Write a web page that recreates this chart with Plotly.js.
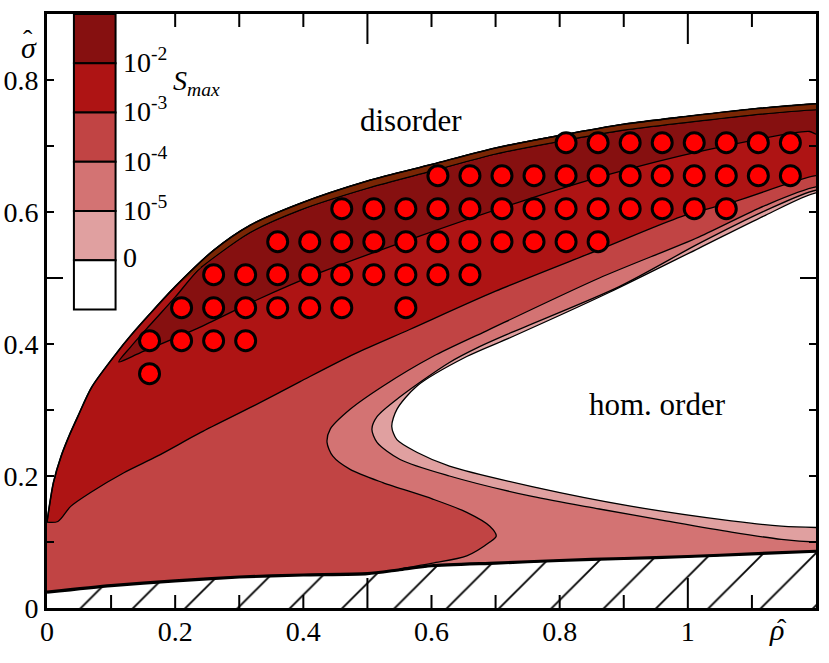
<!DOCTYPE html>
<html>
<head>
<meta charset="utf-8">
<script src="https://cdn.plot.ly/plotly-3.0.1.min.js"></script>
<style>html,body{margin:0;padding:0;background:#fff;}#chart{width:829px;height:663px;}</style>
</head>
<body>
<div id="chart"></div>
<script>
// ---------------- data ----------------
// outer (upper) boundary of the coloured region
const upperRho   = [0, 0.003, 0.01, 0.022, 0.035, 0.048, 0.07, 0.11, 0.13, 0.16, 0.2, 0.26, 0.317, 0.395, 0.5, 0.6, 0.7, 0.8, 0.9, 1.0, 1.1, 1.2];
const upperSigma = [0.13, 0.15, 0.19, 0.23, 0.262, 0.29, 0.335, 0.388, 0.412, 0.445, 0.487, 0.542, 0.58, 0.613, 0.647, 0.672, 0.697, 0.716, 0.733, 0.745, 0.756, 0.764];
// lower (hatched) boundary
const lowerRho   = [0, 0.1, 0.2, 0.3, 0.4, 0.5, 0.55, 0.6, 0.7, 0.8, 0.9, 1.0, 1.1, 1.2];
const lowerSigma = [0.024, 0.034, 0.041, 0.047, 0.05, 0.052, 0.058, 0.064, 0.068, 0.072, 0.075, 0.078, 0.082, 0.086];
// S_max > 1e-2 region: lower edge and upper edge
const darkLowerRho   = [0.112, 0.146, 0.24, 0.328, 0.426, 0.577, 0.737, 0.87, 1.03, 1.19, 1.2];
const darkLowerSigma = [0.373, 0.387, 0.426, 0.467, 0.508, 0.562, 0.615, 0.655, 0.694, 0.722, 0.718];
const darkUpperRho   = [0.112, 0.13, 0.16, 0.2, 0.24, 0.317, 0.395, 0.5, 0.6, 0.7, 0.8, 0.9, 1.0, 1.1, 1.2];
const darkUpperSigma = [0.373, 0.395, 0.428, 0.471, 0.516, 0.569, 0.603, 0.636, 0.662, 0.688, 0.707, 0.724, 0.736, 0.747, 0.755];
// contour S_max = 1e-3
const c3Rho   = [0, 0.017, 0.037, 0.068, 0.12, 0.172, 0.24, 0.32, 0.395, 0.48, 0.566, 0.7, 0.862, 0.99, 1.08, 1.2];
const c3Sigma = [0.13, 0.131, 0.154, 0.175, 0.205, 0.23, 0.266, 0.305, 0.343, 0.385, 0.422, 0.48, 0.543, 0.593, 0.618, 0.655];
// contour S_max = 1e-4
const c4Rho   = [1.2, 1.121, 1.017, 0.862, 0.686, 0.602, 0.524, 0.473, 0.442, 0.437, 0.446, 0.473, 0.524, 0.602, 0.655, 0.691, 0.701, 0.691, 0.655, 0.602, 0.55];
const c4Sigma = [0.638, 0.61, 0.562, 0.5, 0.42, 0.381, 0.336, 0.301, 0.271, 0.251, 0.23, 0.21, 0.19, 0.165, 0.145, 0.124, 0.109, 0.1, 0.079, 0.068, 0.059];
// contour S_max = 1e-5
const c5Rho   = [1.2, 1.121, 1.017, 0.893, 0.726, 0.675, 0.628, 0.551, 0.515, 0.507, 0.515, 0.551, 0.628, 0.757, 0.862, 0.966, 1.068, 1.146, 1.2];
const c5Sigma = [0.633, 0.602, 0.552, 0.487, 0.418, 0.396, 0.372, 0.32, 0.29, 0.271, 0.251, 0.225, 0.2, 0.169, 0.15, 0.132, 0.115, 0.104, 0.1];
// contour S_max = 0 (homogeneous order)
const c0Rho   = [1.2, 1.121, 1.017, 0.877, 0.726, 0.655, 0.577, 0.546, 0.538, 0.546, 0.577, 0.628, 0.757, 0.913, 1.068, 1.146, 1.2];
const c0Sigma = [0.629, 0.595, 0.545, 0.478, 0.411, 0.381, 0.336, 0.301, 0.275, 0.255, 0.236, 0.215, 0.184, 0.154, 0.132, 0.124, 0.122];
// simulation points (rows of constant sigma)
const rowSigma = [0.355, 0.405, 0.455, 0.505, 0.555, 0.605, 0.655, 0.705];
const rowRho = [
  [0.16],
  [0.16, 0.21, 0.26, 0.31],
  [0.21, 0.26, 0.31, 0.36, 0.41, 0.46, 0.56],
  [0.26, 0.31, 0.36, 0.41, 0.46, 0.51, 0.56, 0.61, 0.66],
  [0.36, 0.41, 0.46, 0.51, 0.56, 0.61, 0.66, 0.71, 0.76, 0.81, 0.86],
  [0.46, 0.51, 0.56, 0.61, 0.66, 0.71, 0.76, 0.81, 0.86, 0.91, 0.96, 1.01, 1.06],
  [0.61, 0.66, 0.71, 0.76, 0.81, 0.86, 0.91, 0.96, 1.01, 1.06, 1.11, 1.16],
  [0.81, 0.86, 0.91, 0.96, 1.01, 1.06, 1.11, 1.16]
];
// legend
const legendColors = ['#861010', '#AE1414', '#C14444', '#D37373', '#E0A0A0', '#FFFFFF'];
const legendLabels = ['10<sup>-2</sup>', '10<sup>-3</sup>', '10<sup>-4</sup>', '10<sup>-5</sup>', '0'];
// axes
const xTickVals = [0, 0.2, 0.4, 0.6, 0.8, 1];
const xTickText = ['0', '0.2', '0.4', '0.6', '0.8', '1'];
const yTickVals = [0, 0.2, 0.4, 0.6, 0.8];
const yTickText = ['0', '0.2', '0.4', '0.6', '0.8'];
const xMinorTicks = [0.1, 0.2, 0.3, 0.4, 0.6, 0.7, 0.8, 0.9, 1.1];
const xMajorTicks = [0.5, 1.0];
const yMinorTicks = [0.1, 0.2, 0.3, 0.4, 0.6, 0.7, 0.8];
const yMajorTicks = [0.5];

// ---------------- styling ----------------
const XR = [0, 1.2], YR = [0, 0.9];
const PAD = 0.05;
const FONT = '"Liberation Serif", serif';
const BROWN = '#7A2604';
const rev = a => a.slice().reverse();
const lw = 1.3;

function poly(x, y, fill, width) {
  return {type: 'scatter', mode: 'lines', x: x, y: y, fill: 'toself', fillcolor: fill,
          line: {color: '#000', width: width === undefined ? lw : width, shape: 'spline', smoothing: 0.8},
          hoverinfo: 'skip'};
}
// extend a curve that ends on the right frame a little past it, so polygon corners fall outside the clip
const padEndX = a => a.concat([XR[1] + PAD]);
const padEndY = a => a.concat([a[a.length - 1]]);
const padStartX = a => [XR[1] + PAD].concat(a);
const padStartY = a => [a[0]].concat(a);

const traces = [];
// hatched (forbidden) region
const hatchX = [XR[0], XR[1]].concat(rev(lowerRho));
const hatchY = [YR[0], YR[0]].concat(rev(lowerSigma));
traces.push({type: 'scatter', mode: 'lines', x: hatchX, y: hatchY, fill: 'toself', fillcolor: '#fff',
  fillpattern: {shape: '/', size: 37, solidity: 0.05, fgcolor: '#000', bgcolor: '#fff'},
  line: {width: 0}, hoverinfo: 'skip'});
// 1e-3..1e-2 (whole band)
traces.push(poly(padEndX(upperRho).concat(padStartX(rev(lowerRho))),
                 padEndY(upperSigma).concat(padStartY(rev(lowerSigma))), legendColors[1]));
// 1e-4..1e-3
traces.push(poly(padEndX(c3Rho).concat(padStartX(rev(lowerRho))),
                 padEndY(c3Sigma).concat(padStartY(rev(lowerSigma))), legendColors[2]));
// 1e-5..1e-4
const lastB = c4Rho[c4Rho.length - 1];
const lowR = lowerRho.filter(r => r > lastB), lowS = lowerSigma.filter((s, i) => lowerRho[i] > lastB);
traces.push(poly(padStartX(c4Rho).concat(padEndX(lowR)), padStartY(c4Sigma).concat(padEndY(lowS)), legendColors[3]));
// 0..1e-5
traces.push(poly(padEndX(padStartX(c5Rho)), padEndY(padStartY(c5Sigma)), legendColors[4]));
// 0
traces.push(poly(padEndX(padStartX(c0Rho)), padEndY(padStartY(c0Sigma)), legendColors[5]));
// > 1e-2
traces.push(poly(padEndX(darkLowerRho).concat(padStartX(rev(darkUpperRho))),
                 padEndY(darkLowerSigma).concat(padStartY(rev(darkUpperSigma))), legendColors[0]));
// brown rim along outer boundary
const bu = upperRho.map((r, i) => [r, upperSigma[i]]).filter(p => p[0] >= 0.2);
const bd = darkUpperRho.map((r, i) => [r, darkUpperSigma[i]]).filter(p => p[0] >= 0.24).reverse();
traces.push(poly(padEndX(bu.map(p => p[0])).concat(padStartX(bd.map(p => p[0]))),
                 padEndY(bu.map(p => p[1])).concat(padStartY(bd.map(p => p[1]))), BROWN, 1.1));
// outer boundary line
traces.push({type: 'scatter', mode: 'lines', x: upperRho, y: upperSigma,
  line: {color: '#000', width: 1.6, shape: 'spline', smoothing: 0.8}, hoverinfo: 'skip'});
// thick lower boundary
traces.push({type: 'scatter', mode: 'lines', x: lowerRho, y: lowerSigma,
  line: {color: '#000', width: 3.2, shape: 'spline', smoothing: 0.6}, hoverinfo: 'skip'});
// simulation points
const px = [], py = [];
rowRho.forEach((row, i) => row.forEach(r => { px.push(r); py.push(rowSigma[i]); }));
traces.push({type: 'scatter', mode: 'markers', x: px, y: py,
  marker: {size: 20, color: '#FF0000', line: {color: '#000', width: 3}}, hoverinfo: 'skip'});

const shapes = [];
// tick marks (inside, on all four sides)
function xTick(v, len) {
  shapes.push({type: 'line', xref: 'x', yref: 'paper', ysizemode: 'pixel', yanchor: 0, x0: v, x1: v, y0: 0, y1: len,
    line: {color: '#000', width: 2}, layer: 'above'});
  shapes.push({type: 'line', xref: 'x', yref: 'paper', ysizemode: 'pixel', yanchor: 1, x0: v, x1: v, y0: 0, y1: -len,
    line: {color: '#000', width: 2}, layer: 'above'});
}
function yTick(v, len) {
  shapes.push({type: 'line', yref: 'y', xref: 'paper', xsizemode: 'pixel', xanchor: 0, y0: v, y1: v, x0: 0, x1: len,
    line: {color: '#000', width: 2}, layer: 'above'});
  shapes.push({type: 'line', yref: 'y', xref: 'paper', xsizemode: 'pixel', xanchor: 1, y0: v, y1: v, x0: 0, x1: -len,
    line: {color: '#000', width: 2}, layer: 'above'});
}
xMinorTicks.forEach(v => xTick(v, 13));
xMajorTicks.forEach(v => xTick(v, 30));
yMinorTicks.forEach(v => yTick(v, 7));
yMajorTicks.forEach(v => yTick(v, 16));

// legend colour boxes
const lgX0 = 0.042, lgX1 = 0.107, lgTop = 0.9, lgStep = 0.0746;
legendColors.forEach((c, i) => {
  shapes.push({type: 'rect', xref: 'x', yref: 'y', x0: lgX0, x1: lgX1,
    y0: lgTop - (i + 1) * lgStep, y1: lgTop - i * lgStep, fillcolor: c,
    line: {color: '#000', width: 2}, layer: 'above'});
});

const annotations = [];
const txt = (s) => ({family: FONT, size: s, color: '#000'});
legendLabels.forEach((t, i) => {
  annotations.push({xref: 'x', yref: 'y', x: 0.116, y: lgTop - (i + 1) * lgStep + 0.004, text: t,
    showarrow: false, xanchor: 'left', yanchor: 'middle', font: txt(28)});
});
annotations.push({xref: 'x', yref: 'y', x: 0.194, y: 0.796, text: '<i>S</i><sub><i>max</i></sub>',
  showarrow: false, xanchor: 'left', yanchor: 'middle', font: txt(28)});
annotations.push({xref: 'x', yref: 'y', x: 0.568, y: 0.739, text: 'disorder',
  showarrow: false, font: txt(31)});
annotations.push({xref: 'x', yref: 'y', x: 0.952, y: 0.308, text: 'hom. order',
  showarrow: false, font: txt(31)});
// axis symbols: letter plus a hat placed above it
annotations.push({xref: 'paper', yref: 'paper', x: -0.037, y: 0.974, text: '<i>\u03c3</i>',
  showarrow: false, font: txt(30)});
annotations.push({xref: 'paper', yref: 'paper', x: -0.034, y: 0.987, text: '\u02c6',
  showarrow: false, font: txt(28)});
annotations.push({xref: 'paper', yref: 'paper', x: 0.961, y: -0.068, text: '<i>\u03c1</i>',
  showarrow: false, font: txt(30)});
annotations.push({xref: 'paper', yref: 'paper', x: 0.965, y: -0.064, text: '\u02c6',
  showarrow: false, font: txt(28)});

const layout = {
  width: 829, height: 663,
  margin: {l: 47, r: 13, t: 14, b: 55, pad: 0},
  paper_bgcolor: '#fff', plot_bgcolor: '#fff',
  showlegend: false,
  font: {family: FONT},
  xaxis: {range: XR, tickmode: 'array', tickvals: xTickVals, ticktext: xTickText, ticks: '',
    showline: true, linewidth: 3, linecolor: '#000', mirror: true, ticklabelstandoff: -4,
    showgrid: false, zeroline: false, tickfont: txt(28), fixedrange: true},
  yaxis: {range: YR, tickmode: 'array', tickvals: yTickVals, ticktext: yTickText, ticks: '',
    showline: true, linewidth: 3, linecolor: '#000', mirror: true,
    showgrid: false, zeroline: false, tickfont: txt(28), fixedrange: true},
  shapes: shapes,
  annotations: annotations
};
Plotly.newPlot('chart', traces, layout, {staticPlot: true, displayModeBar: false});
</script>
</body>
</html>
